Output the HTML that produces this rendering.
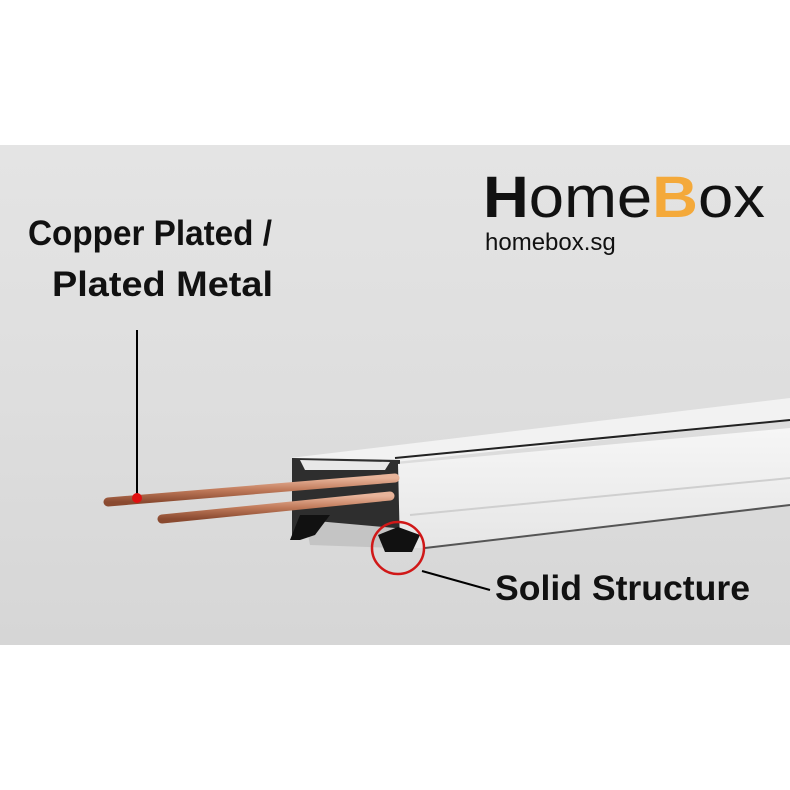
<!DOCTYPE html>
<html><head><meta charset="utf-8"><style>
html,body{margin:0;padding:0;background:#fff;}
svg{display:block;}
</style></head><body>
<svg width="790" height="790" viewBox="0 0 790 790" xmlns="http://www.w3.org/2000/svg">
<defs>
<linearGradient id="bg" x1="0" y1="0" x2="0" y2="1">
<stop offset="0" stop-color="#e4e4e4"/><stop offset="0.5" stop-color="#dedede"/><stop offset="1" stop-color="#d6d6d6"/>
</linearGradient>
<linearGradient id="cu" x1="0" y1="0" x2="0" y2="1">
<stop offset="0" stop-color="#e8b49a"/><stop offset="0.5" stop-color="#c07a5a"/><stop offset="1" stop-color="#8a4a30"/>
</linearGradient>
<linearGradient id="face" x1="0" y1="0" x2="0" y2="1">
<stop offset="0" stop-color="#f6f6f6"/><stop offset="1" stop-color="#e6e6e6"/>
</linearGradient>
</defs>
<rect x="0" y="145" width="790" height="500" fill="url(#bg)"/>
<!-- rail top face -->
<polygon points="290,458 790,398 790,420 395,462" fill="#f2f2f2"/>
<line x1="395" y1="458" x2="790" y2="420" stroke="#222" stroke-width="2"/>
<!-- dark end opening -->
<polygon points="292,458 400,460 400,540 292,535" fill="#2e2e2e"/>
<polygon points="300,460 390,462 385,470 305,470" fill="#e8e8e8"/>
<polygon points="305,520 395,528 395,548 310,545" fill="#c4c4c4"/>
<polygon points="300,515 330,515 315,535 300,540 290,540" fill="#111"/>
<!-- front face -->
<polygon points="398,464 790,428 790,505 425,548 400,548" fill="url(#face)"/>
<line x1="410" y1="515" x2="790" y2="478" stroke="#cfcfcf" stroke-width="2"/>
<line x1="425" y1="548" x2="790" y2="505" stroke="#555" stroke-width="2"/>
<!-- foot -->
<polygon points="378,535 398,527 420,535 412,552 385,552" fill="#111"/>
<!-- rods -->
<line x1="108" y1="502" x2="395" y2="478" stroke="url(#cu)" stroke-width="9" stroke-linecap="round"/>
<line x1="162" y1="519" x2="390" y2="496" stroke="url(#cu)" stroke-width="9" stroke-linecap="round"/>
<!-- callouts -->
<line x1="137" y1="330" x2="137" y2="498" stroke="#000" stroke-width="2"/>
<circle cx="137" cy="498" r="5" fill="#e01010"/>
<circle cx="398" cy="548" r="26" fill="none" stroke="#d01818" stroke-width="2.5"/>
<line x1="422" y1="571" x2="490" y2="590" stroke="#000" stroke-width="2"/>
<g font-family="Liberation Sans, sans-serif" font-weight="bold" fill="#111" font-size="35">
<text x="28" y="245" textLength="244" lengthAdjust="spacingAndGlyphs">Copper Plated /</text>
<text x="52" y="296" textLength="221" lengthAdjust="spacingAndGlyphs">Plated Metal</text>
<text x="495" y="600" textLength="255" lengthAdjust="spacingAndGlyphs">Solid Structure</text>
</g>
<g font-family="Liberation Sans, sans-serif">
<text x="483" y="217" font-size="58" fill="#111" textLength="282" lengthAdjust="spacingAndGlyphs"><tspan font-weight="bold">H</tspan>ome<tspan font-weight="bold" fill="#f4a93a">B</tspan>ox</text>
<text x="485" y="250" font-size="24" fill="#111">homebox.sg</text>
</g>
</svg>
</body></html>
